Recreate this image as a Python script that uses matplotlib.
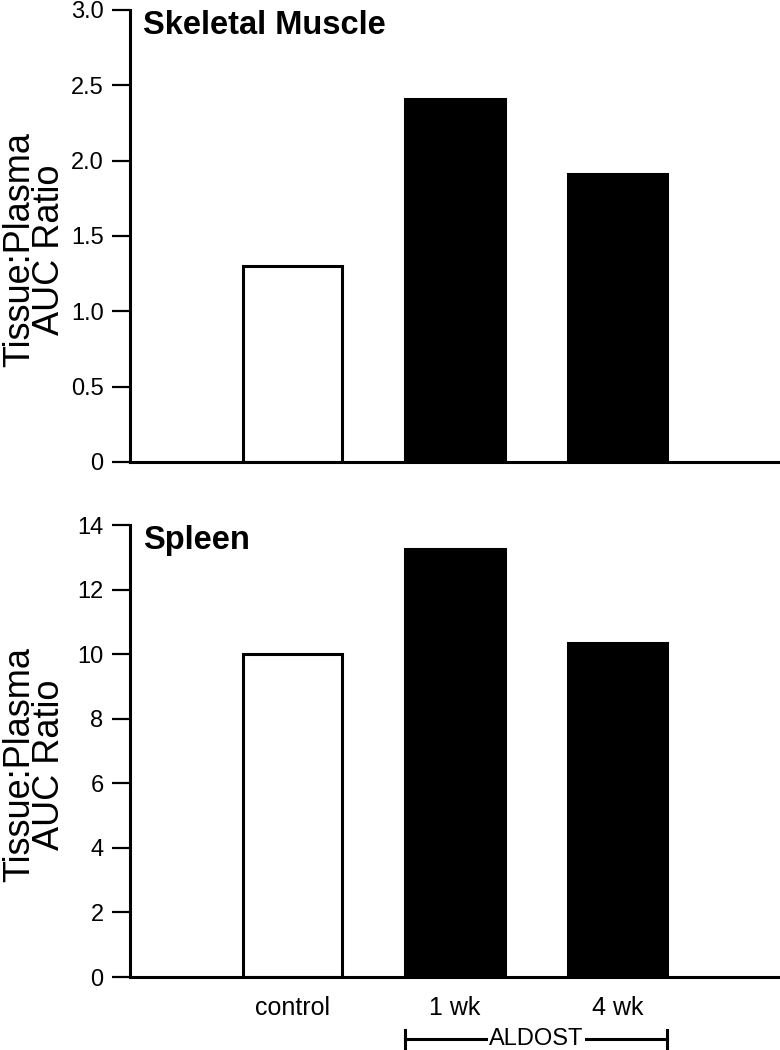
import matplotlib.pyplot as plt
from matplotlib.transforms import blended_transform_factory

plt.rcParams['font.family'] = ['Liberation Sans', 'DejaVu Sans']

groups = ['control', '1 wk', '4 wk']
muscle = [1.30, 2.41, 1.91]
spleen = [10.0, 13.25, 10.35]
fills = ['white', 'black', 'black']

muscle_ticks = [0, 0.5, 1.0, 1.5, 2.0, 2.5, 3.0]
muscle_labels = ['0', '0.5', '1.0', '1.5', '2.0', '2.5', '3.0']
spleen_ticks = [0, 2, 4, 6, 8, 10, 12, 14]

fig = plt.figure(figsize=(7.8, 10.5), dpi=100)
ax1 = fig.add_axes([130 / 780, 1 - 462 / 1050, 650 / 780, 452 / 1050])
ax2 = fig.add_axes([130 / 780, 1 - 977 / 1050, 650 / 780, 452 / 1050])

pos = [1, 2, 3]
width = 0.615


def style(ax, vals, ymax, ticks, ticklabels, title):
    ax.bar(pos, vals, width=width, color=fills, edgecolor='black', linewidth=2.2)
    ax.set_xlim(0, 4)
    ax.set_ylim(0, ymax)
    ax.set_yticks(ticks)
    ax.set_yticklabels(ticklabels)
    for s in ['top', 'right']:
        ax.spines[s].set_visible(False)
    for s in ['left', 'bottom']:
        ax.spines[s].set_linewidth(2.2)
    ax.tick_params(axis='y', direction='out', length=13, width=1.6, labelsize=17, pad=6)
    ax.set_ylabel('Tissue:Plasma\nAUC Ratio', fontsize=26, linespacing=0.8)
    ax.yaxis.set_label_coords(-0.097, 0.47)
    ax.text(0.02, 1.0, title, transform=ax.transAxes, fontsize=23.5, fontweight='bold',
            ha='left', va='top')


style(ax1, muscle, 3.0, muscle_ticks, muscle_labels, 'Skeletal Muscle')
style(ax2, spleen, 14, spleen_ticks, [str(t) for t in spleen_ticks], 'Spleen')

ax1.set_xticks([])
ax2.set_xticks(pos)
ax2.set_xticklabels(groups)
ax2.tick_params(axis='x', length=0, labelsize=18, pad=14)

# ALDOST bracket under 1 wk and 4 wk
tr = blended_transform_factory(ax2.transData, ax2.transAxes)
x0, x1 = pos[1] - width / 2, pos[2] + width / 2
yb = -0.137
ax2.plot([x0, x1], [yb, yb], color='black', lw=2.2, transform=tr, clip_on=False)
for xe in (x0, x1):
    ax2.plot([xe, xe], [yb - 0.02, yb + 0.02], color='black', lw=2.2, transform=tr, clip_on=False)
ax2.text((x0 + x1) / 2, yb, 'ALDOST', transform=tr, ha='center', va='center', fontsize=17,
         bbox=dict(facecolor='white', edgecolor='none', pad=1))

fig.savefig('out.png', dpi=100)
